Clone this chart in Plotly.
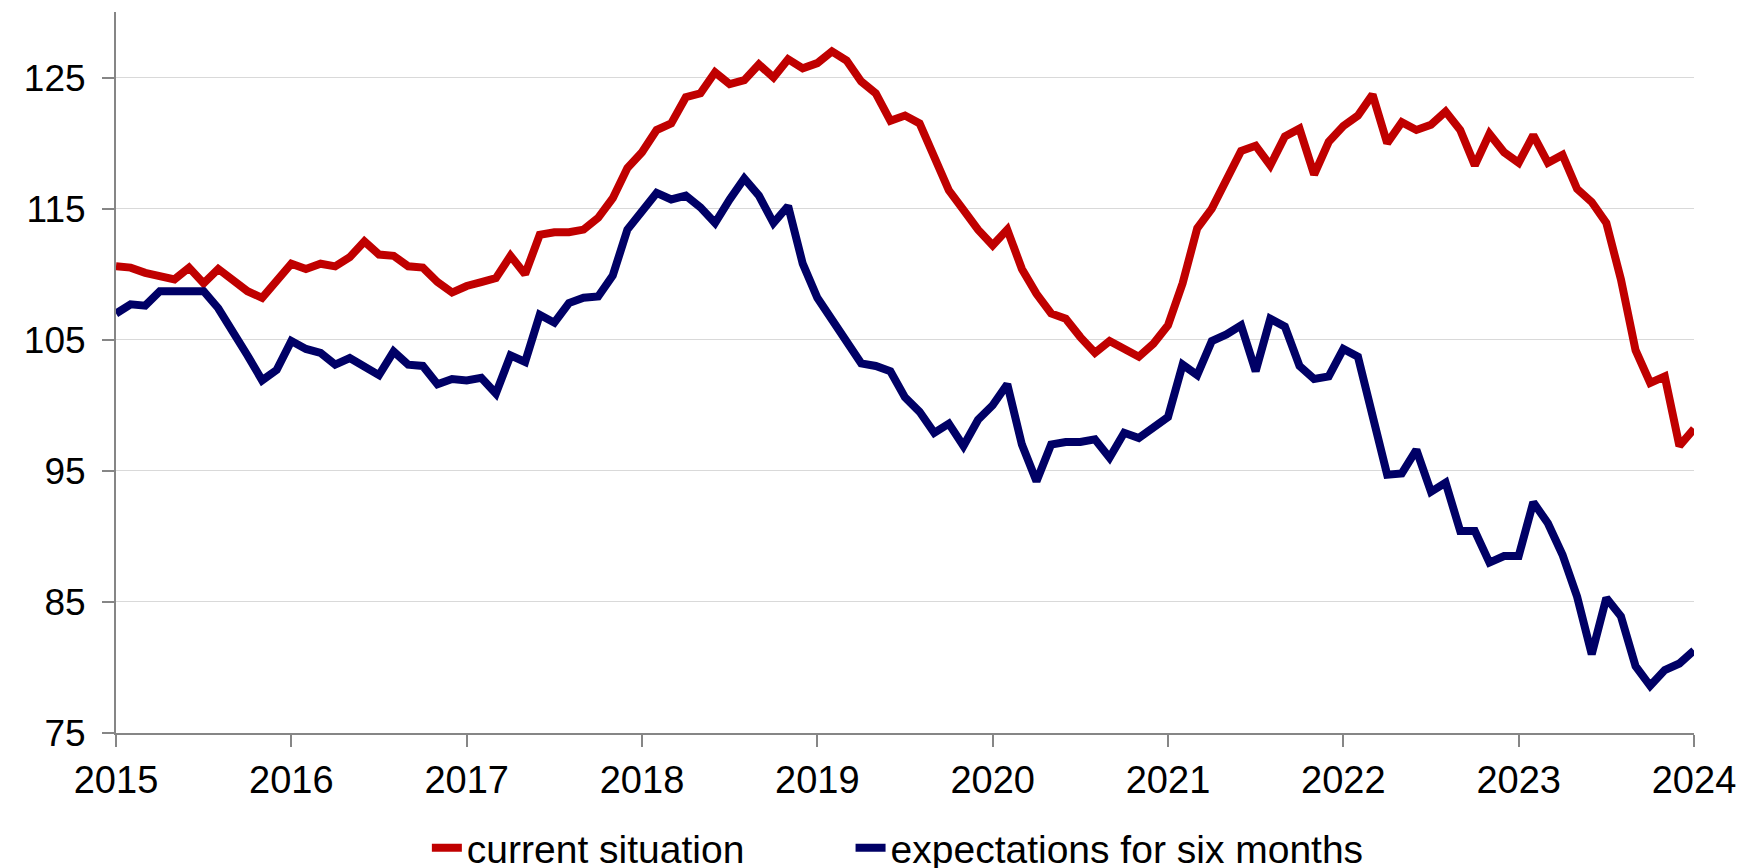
import pandas as pd
import plotly.graph_objects as go

months = pd.date_range("2015-01-01", "2024-01-01", freq="MS")

current_situation = [
    110.6, 110.5, 110.1, 109.9, 109.6, 110.5, 109.3, 110.4, 109.6, 108.7, 108.2, 109.4,
    110.8, 110.4, 110.8, 110.6, 111.3, 112.5, 111.5, 111.4, 110.6, 110.5, 109.4, 108.6,
    109.1, 109.4, 109.7, 111.4, 110.0, 113.0, 113.2, 113.2, 113.4, 114.3, 115.8, 118.1,
    119.3, 121.0, 121.5, 123.5, 123.8, 125.4, 124.5, 124.8, 126.0, 125.0, 126.4, 125.7,
    126.1, 127.0, 126.3, 124.7, 123.8, 121.7, 122.1, 121.5, 119.1, 116.4, 114.9, 113.4,
    112.2, 113.4, 110.4, 108.5, 107.0, 106.6, 105.2, 104.0, 104.9, 104.3, 103.7, 104.7,
    106.1, 109.3, 113.5, 115.0, 117.1, 119.4, 119.8, 118.3, 120.5, 121.1, 117.6, 120.1,
    121.3, 122.1, 123.7, 120.0, 121.6, 121.0, 121.4, 122.4, 121.0, 118.3, 120.7, 119.3,
    118.5, 120.6, 118.5, 119.1, 116.5, 115.5, 113.9, 109.6, 104.2, 101.7, 102.2, 96.9, 98.2,
]

expectations = [
    107.0, 107.7, 107.6, 108.7, 108.7, 108.7, 108.7, 107.4, 105.7, 103.8, 101.9, 102.7,
    104.9, 104.3, 104.0, 103.1, 103.6, 103.0, 102.3, 104.1, 103.1, 103.0, 101.6, 102.0,
    101.9, 102.1, 100.9, 103.8, 103.3, 106.9, 106.3, 107.8, 108.2, 108.3, 109.9, 113.4,
    114.8, 116.2, 115.7, 116.0, 115.1, 113.9, 115.7, 117.3, 116.0, 113.9, 115.2, 110.8,
    108.2, 106.5, 105.0, 103.2, 103.0, 102.6, 100.6, 99.5, 97.9, 98.6, 96.9, 98.9,
    100.0, 101.6, 97.0, 94.2, 97.0, 97.2, 97.2, 97.4, 96.0, 97.9, 97.5, 98.3,
    99.1, 103.1, 102.3, 104.9, 105.4, 106.1, 102.6, 106.6, 106.0, 103.0, 102.0, 102.2,
    104.3, 103.7, 98.9, 94.7, 94.8, 96.6, 93.4, 94.1, 90.4, 90.4, 88.0, 88.5,
    88.5, 92.6, 91.0, 88.6, 85.4, 81.0, 85.3, 83.9, 80.1, 78.6, 79.8, 80.3, 81.3,
]

year_ticks = list(range(2015, 2025))
y_ticks = [75, 85, 95, 105, 115, 125]

# fractional-year positions for the monthly observations
x_pos = [d.year + (d.month - 1) / 12 for d in months]

fig = go.Figure()
fig.add_trace(go.Scatter(x=x_pos, y=current_situation, mode="lines",
                         name="current situation", legend="legend",
                         line=dict(color="#C00000", width=8)))
fig.add_trace(go.Scatter(x=x_pos, y=expectations, mode="lines",
                         name="expectations for six months", legend="legend2",
                         line=dict(color="#000066", width=8)))

font_family = "Liberation Sans, Arial, sans-serif"
legend_common = dict(orientation="h", xanchor="left", y=-0.2039, yanchor="bottom",
                     font=dict(size=39), bgcolor="rgba(0,0,0,0)")

fig.update_layout(
    width=1742, height=900,
    margin=dict(l=116, r=48, t=12, b=167, autoexpand=False),
    paper_bgcolor="white", plot_bgcolor="white",
    font=dict(family=font_family, size=38, color="black"),
    showlegend=True,
    legend=dict(x=0.197, **legend_common),
    legend2=dict(x=0.4655, **legend_common),
    xaxis=dict(range=[2015, 2024], tickmode="array", tickvals=year_ticks,
               ticktext=[str(y) for y in year_ticks],
               showgrid=False, zeroline=False,
               showline=True, linecolor="#868686", linewidth=2,
               ticks="outside", ticklen=12, tickwidth=2, tickcolor="#868686",
               ticklabelstandoff=0, tickfont=dict(size=38)),
    yaxis=dict(range=[75, 130], tickmode="array", tickvals=y_ticks,
               ticktext=[str(v) for v in y_ticks],
               showgrid=True, gridcolor="#D9D9D9", gridwidth=1, zeroline=False,
               showline=True, linecolor="#868686", linewidth=2,
               ticks="outside", ticklen=12, tickwidth=2, tickcolor="#868686",
               ticklabelstandoff=9, tickfont=dict(size=37)),
)

fig.write_html(
    "out.html",
    config={"displayModeBar": False},
    post_script="document.body.style.margin='0';document.body.style.overflow='hidden';",
)
